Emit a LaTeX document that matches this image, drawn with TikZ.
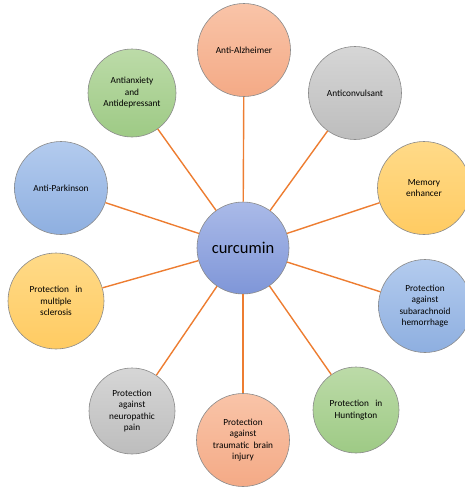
\documentclass[tikz,border=0pt]{standalone}
\usepackage{fontspec}
\setmainfont{Carlito}
\usepackage{tikz}

\definecolor{spoke}{HTML}{ED7D31}
\definecolor{rim}{HTML}{8A8A8A}
\definecolor{salmonT}{HTML}{F9C4A8}\definecolor{salmonB}{HTML}{F4AA86}
\definecolor{greyT}{HTML}{D6D6D6}\definecolor{greyB}{HTML}{BDBDBD}
\definecolor{yellowT}{HTML}{FFDA88}\definecolor{yellowB}{HTML}{FFCB62}
\definecolor{blueT}{HTML}{B3CBEE}\definecolor{blueB}{HTML}{8EAFE0}
\definecolor{greenT}{HTML}{BCDBA8}\definecolor{greenB}{HTML}{9ECA85}
\definecolor{hubT}{HTML}{AABAE8}\definecolor{hubB}{HTML}{7F96D8}

\tikzset{
  bubble/.style={circle, draw=rim, line width=.6pt, minimum size=93pt, inner sep=1pt,
    align=center, font=\fontsize{9.3}{11.5}\selectfont},
  salmon/.style={bubble, top color=salmonT, bottom color=salmonB},
  grey/.style={bubble, top color=greyT, bottom color=greyB},
  yellow/.style={bubble, top color=yellowT, bottom color=yellowB},
  blue/.style={bubble, top color=blueT, bottom color=blueB},
  green/.style={bubble, top color=greenT, bottom color=greenB},
}

\begin{document}
\begin{tikzpicture}[x=1pt, y=-1pt]
  \useasboundingbox (0,0) rectangle (465,488);

  \node[bubble, minimum size=92pt, top color=hubT, bottom color=hubB, font=\fontsize{16.5}{18}\selectfont]
    (cur) at (243,248) {curcumin};

  \node[salmon] (alz) at (244,50) {Anti-Alzheimer};
  \node[grey] (conv) at (355,93) {Anticonvulsant};
  \node[yellow] (mem) at (424,188) {Memory\\enhancer};
  \node[blue] (sah) at (425,306) {Protection\\against\\subarachnoid\\hemorrhage};
  \node[green, minimum size=86pt] (hunt) at (356,410) {Protection~~ in\\Huntington};
  \node[salmon] (tbi) at (243,440) {Protection\\against\\traumatic~ brain\\injury};
  \node[grey, minimum size=86pt] (neuro) at (132,411) {Protection\\against\\neuropathic\\pain};
  \node[yellow, minimum size=96pt] (ms) at (56,301) {Protection~~ in\\multiple\\sclerosis};
  \node[blue] (park) at (61,188) {Anti-Parkinson};
  \node[green, minimum size=88pt] (anx) at (132,93) {Antianxiety\\and\\Antidepressant};

  % spokes out of the centre
  \foreach \n in {alz,conv,mem,sah,hunt,tbi,neuro,ms,park,anx}
    \draw[spoke, line width=1.4pt] (cur) -- (\n);
\end{tikzpicture}
\end{document}
